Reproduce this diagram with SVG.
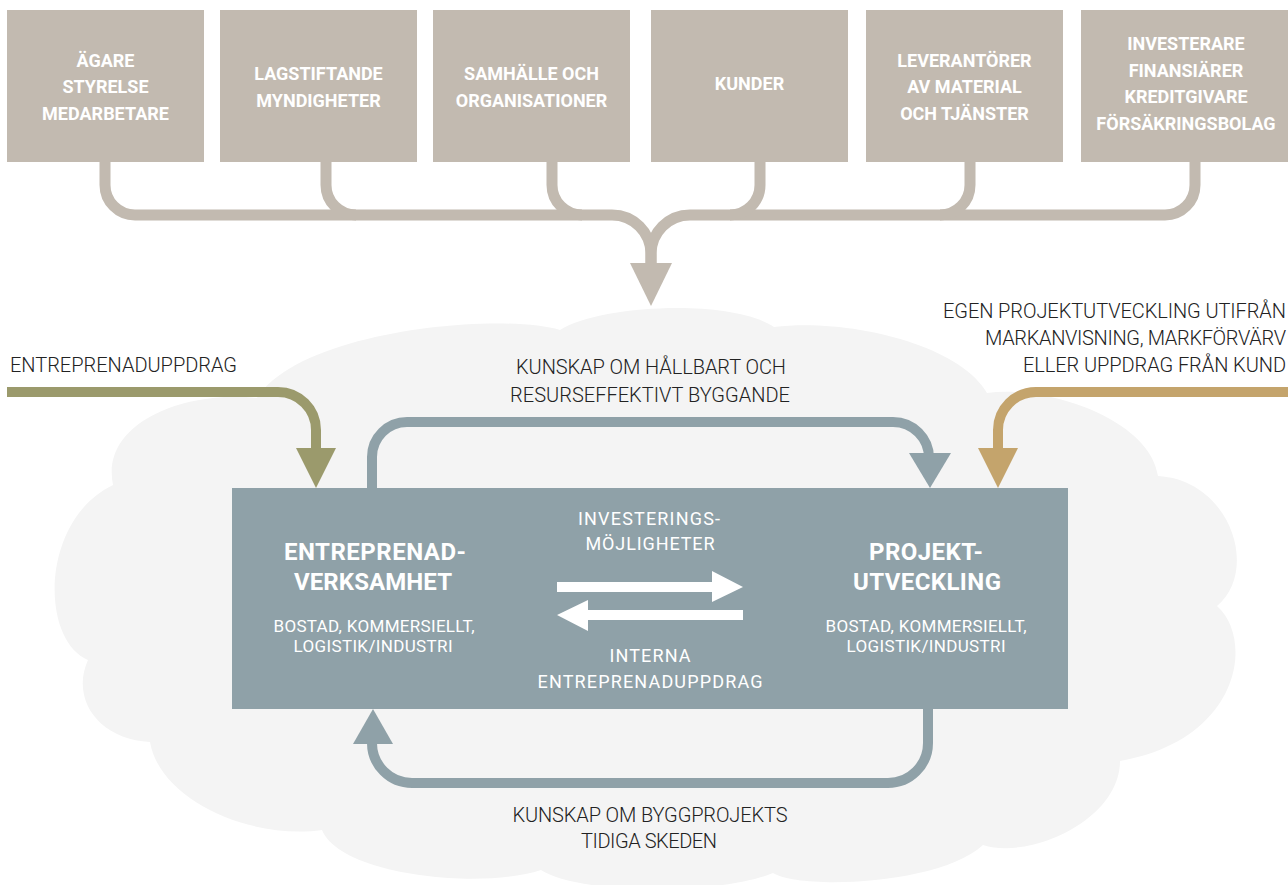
<svg xmlns="http://www.w3.org/2000/svg" width="1288" height="885" viewBox="0 0 1288 885">
<style>
.top{fill:#c2bab0}
.toptxt{font-family:Roboto,"Liberation Sans",sans-serif;font-weight:bold;font-size:18px;fill:#fff;text-anchor:middle}
.main{fill:#8fa1a8}
.mtitle{font-family:Roboto,"Liberation Sans",sans-serif;font-weight:bold;font-size:24px;fill:#fff;text-anchor:middle}
.msub{font-family:Roboto,"Liberation Sans",sans-serif;font-size:17px;fill:#fff;text-anchor:middle}
.mmid{font-family:Roboto,"Liberation Sans",sans-serif;font-size:18px;fill:#fff;text-anchor:middle}
.lbl{font-family:Roboto,"Liberation Sans",sans-serif;font-weight:300;font-size:20px;fill:#222;text-anchor:middle}
.lbls{font-family:Roboto,"Liberation Sans",sans-serif;font-weight:300;font-size:20px;fill:#222}
.beige{fill:none;stroke:#c2bab0;stroke-width:11}
.grey{fill:none;stroke:#8fa1a8;stroke-width:10}
.green{fill:none;stroke:#9b9a6c;stroke-width:10}
.gold{fill:none;stroke:#c4a46c;stroke-width:10}
</style>
<g id="cloud">
<path fill="#f4f4f4" d="M113,485 C100,420 190,390 257,398 C300,330 500,312 560,330 C600,305 730,298 774,327 C850,318 960,345 987,393 C1050,385 1150,420 1158,476 C1230,480 1260,570 1217,606 C1255,640 1240,740 1120,761 C1120,820 1030,860 983,845 C940,885 800,890 773,873 C720,895 580,895 541,870 C480,890 340,875 322,830 C250,840 160,800 150,742 C100,740 70,700 88,660 C40,640 40,520 113,485 Z"/>
</g>
<g id="connectors">
<path class="beige" d="M105,161 V185 A30,30 0 0 0 135,215 H612 A39,39 0 0 1 651,254 V266"/>
<path class="beige" d="M1195,161 V185 A30,30 0 0 1 1165,215 H690 A39,39 0 0 0 651,254 V266"/>
<path class="beige" d="M326,161 V185 A30,30 0 0 0 356,215"/>
<path class="beige" d="M552,161 V185 A30,30 0 0 0 582,215"/>
<path class="beige" d="M760,161 V185 A30,30 0 0 1 730,215"/>
<path class="beige" d="M970,161 V185 A30,30 0 0 1 940,215"/>
<polygon fill="#c2bab0" points="630,263 672,263 651,306"/>
<path class="green" d="M7,392 H278 A38,38 0 0 1 316,430 V452"/>
<polygon fill="#9b9a6c" points="296,448 336,448 316,488"/>
<path class="gold" d="M1288,392 H1036 A38,38 0 0 0 998,430 V452"/>
<polygon fill="#c4a46c" points="978,448 1018,448 998,488"/>
<path class="grey" d="M372,488 V457 A35,35 0 0 1 407,422 H893 A36,36 0 0 1 929,458 V456"/>
<polygon fill="#8fa1a8" points="909,453 951,453 930,488"/>
<path class="grey" d="M928,709 V743 A40,40 0 0 1 888,783 H412 A40,40 0 0 1 372,743 V740"/>
<polygon fill="#8fa1a8" points="353,744 393,744 373,709"/>
</g>
<g id="n1"><rect class="top" x="7" y="10" width="197" height="152"/>
<text class="toptxt" x="105.5" y="67">ÄGARE</text><text class="toptxt" x="105.5" y="93">STYRELSE</text><text class="toptxt" x="105.5" y="120">MEDARBETARE</text></g>
<g id="n2"><rect class="top" x="220" y="10" width="197" height="152"/>
<text class="toptxt" x="318.5" y="80">LAGSTIFTANDE</text><text class="toptxt" x="318.5" y="107">MYNDIGHETER</text></g>
<g id="n3"><rect class="top" x="433" y="10" width="197" height="152"/>
<text class="toptxt" x="531.5" y="80">SAMHÄLLE OCH</text><text class="toptxt" x="531.5" y="107">ORGANISATIONER</text></g>
<g id="n4"><rect class="top" x="651" y="10" width="197" height="152"/>
<text class="toptxt" x="749.5" y="90">KUNDER</text></g>
<g id="n5"><rect class="top" x="866" y="10" width="197" height="152"/>
<text class="toptxt" x="964.5" y="67">LEVERANTÖRER</text><text class="toptxt" x="964.5" y="93">AV MATERIAL</text><text class="toptxt" x="964.5" y="120">OCH TJÄNSTER</text></g>
<g id="n6"><rect class="top" x="1081" y="10" width="207" height="152"/>
<text class="toptxt" x="1186" y="50">INVESTERARE</text><text class="toptxt" x="1186" y="77">FINANSIÄRER</text><text class="toptxt" x="1186" y="103">KREDITGIVARE</text><text class="toptxt" x="1186" y="130">FÖRSÄKRINGSBOLAG</text></g>
<g id="core">
<rect class="main" x="232" y="488" width="836" height="221"/>
<text class="mtitle" x="375" y="560" textLength="182">ENTREPRENAD-</text><text class="mtitle" x="373" y="590" textLength="158">VERKSAMHET</text>
<text class="msub" x="374" y="632" textLength="201">BOSTAD, KOMMERSIELLT,</text><text class="msub" x="373" y="652" textLength="159">LOGISTIK/INDUSTRI</text>
<text class="mtitle" x="926" y="560" textLength="114">PROJEKT-</text><text class="mtitle" x="927" y="590" textLength="148">UTVECKLING</text>
<text class="msub" x="926" y="632" textLength="201">BOSTAD, KOMMERSIELLT,</text><text class="msub" x="926" y="652" textLength="159">LOGISTIK/INDUSTRI</text>
<text class="mmid" x="649" y="525" textLength="142">INVESTERINGS-</text><text class="mmid" x="650" y="550" textLength="129">MÖJLIGHETER</text>
<polygon fill="#fff" points="557,582 712,582 712,571 743,587 712,602 712,592 557,592"/>
<polygon fill="#fff" points="743,610 588,610 588,600 557,615 588,631 588,620 743,620"/>
<text class="mmid" x="650" y="662" textLength="81">INTERNA</text><text class="mmid" x="650" y="688" textLength="225">ENTREPRENADUPPDRAG</text>
</g>
<g id="labels">
<text class="lbls" x="10" y="372" textLength="227">ENTREPRENADUPPDRAG</text>
<text class="lbl" x="651" y="374" textLength="270">KUNSKAP OM HÅLLBART OCH</text>
<text class="lbl" x="650" y="402" textLength="280">RESURSEFFEKTIVT BYGGANDE</text>
<text class="lbls" x="943" y="318" textLength="343">EGEN PROJEKTUTVECKLING UTIFRÅN</text>
<text class="lbls" x="985" y="345" textLength="301">MARKANVISNING, MARKFÖRVÄRV</text>
<text class="lbls" x="1023" y="372" textLength="263">ELLER UPPDRAG FRÅN KUND</text>
<text class="lbl" x="650" y="822" textLength="275">KUNSKAP OM BYGGPROJEKTS</text>
<text class="lbl" x="649" y="848" textLength="136">TIDIGA SKEDEN</text>
</g>
</svg>
